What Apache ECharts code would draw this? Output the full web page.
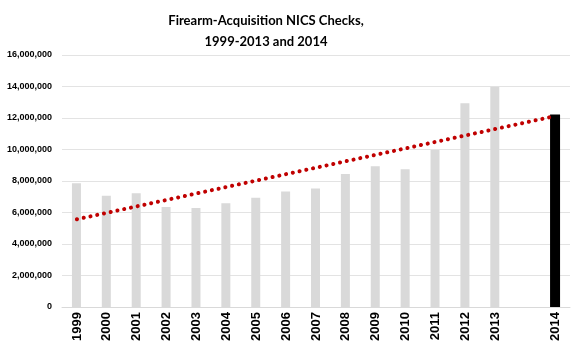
<!DOCTYPE html>
<html>
<head>
<meta charset="utf-8">
<script src="https://cdn.jsdelivr.net/npm/echarts@6/dist/echarts.min.js"></script>
<style>html,body{margin:0;padding:0;background:#fff}#c{width:579px;height:350px}</style>
</head>
<body>
<div id="c"></div>
<script>
const categories = ['1999','2000','2001','2002','2003','2004','2005','2006','2007','2008','2009','2010','2011','2012','2013','','2014'];
const checks1999to2013 = [7850000,7070000,7220000,6350000,6290000,6580000,6940000,7340000,7530000,8440000,8930000,8740000,9970000,12930000,13990000,null,null];
const checks2014 = [null,null,null,null,null,null,null,null,null,null,null,null,null,null,null,null,12230000];
const trendEnds = [5570000,null,null,null,null,null,null,null,null,null,null,null,null,null,null,null,12120000];
const yTicks = [0,2000000,4000000,6000000,8000000,10000000,12000000,14000000,16000000];

const chart = echarts.init(document.getElementById('c'), null, {renderer:'canvas'});
const fmt = v => v === 0 ? '0' : v.toLocaleString('en-US');
chart.setOption({
  animation:false,
  backgroundColor:'#fff',
  title:{
    text:'Firearm-Acquisition NICS Checks,\n1999-2013 and 2014',
    left:261, top:5, textAlign:'center',
    textStyle:{fontFamily:'Lato', fontWeight:'bold', fontSize:13, lineHeight:21, color:'#000'}
  },
  grid:{left:62, right:9, top:55, bottom:43, containLabel:false},
  xAxis:{
    type:'category', data:categories, boundaryGap:true,
    axisLine:{show:true, lineStyle:{color:'#d9d9d9', width:1}},
    axisTick:{show:false},
    axisLabel:{rotate:90, interval:0, margin:5, fontFamily:'Liberation Sans', fontWeight:'bold', fontSize:13, color:'#000'}
  },
  yAxis:{
    type:'value', min:yTicks[0], max:yTicks[yTicks.length-1], interval:2000000,
    axisLine:{show:false}, axisTick:{show:false},
    splitLine:{lineStyle:{color:'#e3e3e3', width:1}},
    axisLabel:{formatter:fmt, margin:10, fontFamily:'Liberation Sans', fontWeight:'bold', fontSize:9, color:'#000'}
  },
  series:[
    {type:'bar', data:checks1999to2013, barWidth:9, barGap:'-100%', itemStyle:{color:'#d9d9d9'}, z:2},
    {type:'bar', data:checks2014, barWidth:10, itemStyle:{color:'#000'}, z:2},
    {type:'line', data:trendEnds, connectNulls:true, symbol:'none', z:3,
     lineStyle:{color:'#c00000', width:4, type:[0.1,6.8], cap:'round'}}
  ]
});
</script>
</body>
</html>
